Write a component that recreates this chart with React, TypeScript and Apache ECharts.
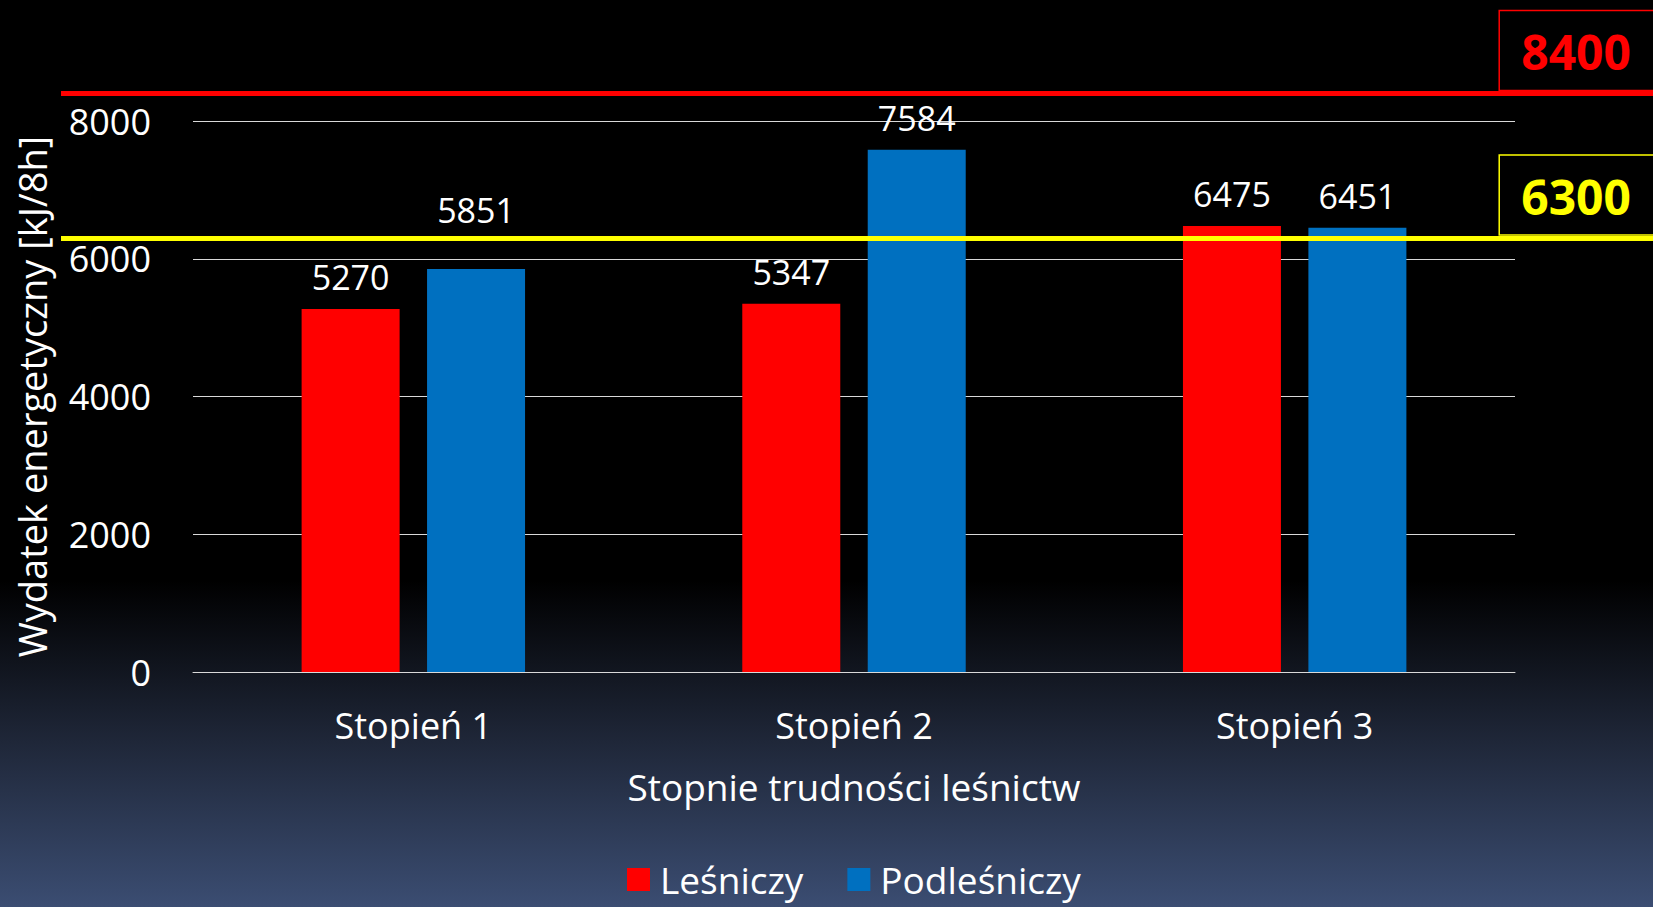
import React, { useEffect, useRef } from "react";
import * as echarts from "echarts";

const categories = ["Stopień 1", "Stopień 2", "Stopień 3"];
const lesniczy = [5270, 5347, 6475];
const podlesniczy = [5851, 7584, 6451];
const seriesNames = ["Leśniczy", "Podleśniczy"];
const limitHigh = 8400;
const limitLow = 6300;
const yTicks = { min: 0, max: 8000, interval: 2000 };

const FONT = "'Open Sans', 'Noto Sans', sans-serif";

export default function App() {
  const ref = useRef<HTMLDivElement>(null);

  useEffect(() => {
    if (!ref.current) return;
    const chart = echarts.init(ref.current, undefined, { renderer: "svg" });

    const gridTop = 121;
    const gridBottom = 235;
    const plotH = 907 - gridTop - gridBottom;
    const overlayMax = 8800;
    const overlayTop = 907 - gridBottom - (plotH * overlayMax) / yTicks.max;

    const barLabel = {
      show: true,
      position: "top" as const,
      color: "#ffffff",
      fontSize: 34,
      fontFamily: FONT,
      distance: 15,
    };

    const limitLabel = (color: string) => ({
      show: true,
      position: "insideEndTop" as const,
      formatter: "{c}",
      color,
      fontSize: 48,
      lineHeight: 56,
      fontWeight: "bold" as const,
      fontFamily: FONT,
      borderColor: color,
      borderWidth: 1.5,
      padding: [13, 26, 11, 22],
      distance: [-4, 3],
    });

    chart.setOption({
      animation: false,
      backgroundColor: "transparent",
      textStyle: { fontFamily: FONT },
      grid: [
        { left: 193, right: 138, top: gridTop, bottom: gridBottom },
        { left: 61, right: 0, top: overlayTop, bottom: gridBottom },
      ],
      legend: {
        data: seriesNames,
        top: 856,
        left: 622,
        icon: "rect",
        itemWidth: 23,
        itemHeight: 23,
        itemGap: 44,
        textStyle: { color: "#ffffff", fontSize: 37, fontFamily: FONT, padding: [0, 0, 0, 5] },
      },
      xAxis: [
        {
          type: "category",
          gridIndex: 0,
          data: categories,
          axisLine: { lineStyle: { color: "#d9d9d9", width: 1 } },
          axisTick: { show: false },
          axisLabel: { color: "#ffffff", fontSize: 36, margin: 35, fontFamily: FONT },
          name: "Stopnie trudności leśnictw",
          nameLocation: "middle",
          nameGap: 96,
          nameTextStyle: { color: "#ffffff", fontSize: 37, fontFamily: FONT },
        },
        {
          type: "value",
          gridIndex: 1,
          min: 0,
          max: 1,
          show: false,
        },
      ],
      yAxis: [
        {
          type: "value",
          gridIndex: 0,
          min: yTicks.min,
          max: yTicks.max,
          interval: yTicks.interval,
          axisLine: { show: false },
          axisTick: { show: false },
          splitLine: { lineStyle: { color: "#d9d9d9", width: 1 } },
          axisLabel: {
            color: "#ffffff",
            fontSize: 36,
            margin: 42,
            fontFamily: FONT,
            formatter: (v: number) => String(v),
          },
          name: "Wydatek energetyczny [kJ/8h]",
          nameLocation: "middle",
          nameRotate: 90,
          nameGap: 142,
          nameTextStyle: { color: "#ffffff", fontSize: 38, fontFamily: FONT },
        },
        {
          type: "value",
          gridIndex: 1,
          min: 0,
          max: overlayMax,
          show: false,
        },
      ],
      series: [
        {
          name: "limits",
          type: "line",
          xAxisIndex: 1,
          yAxisIndex: 1,
          data: [],
          z: 1,
          silent: true,
          markLine: {
            silent: true,
            symbol: ["none", "none"],
            data: [
              {
                yAxis: limitHigh,
                lineStyle: { color: "#ff0000", width: 5, type: "solid" },
                label: limitLabel("#ff0000"),
              },
              {
                yAxis: limitLow,
                lineStyle: { color: "#ffff00", width: 5, type: "solid" },
                label: limitLabel("#ffff00"),
              },
            ],
          },
        },
        {
          name: seriesNames[0],
          type: "bar",
          xAxisIndex: 0,
          yAxisIndex: 0,
          data: lesniczy,
          barWidth: 98,
          barGap: "28%",
          itemStyle: { color: "#ff0000" },
          label: barLabel,
          z: 3,
        },
        {
          name: seriesNames[1],
          type: "bar",
          xAxisIndex: 0,
          yAxisIndex: 0,
          data: podlesniczy.map((v, i) =>
            i === 0 ? { value: v, label: { distance: 42 } } : v
          ),
          barWidth: 98,
          barGap: "28%",
          itemStyle: { color: "#0070c0" },
          label: barLabel,
          z: 3,
        },
      ],
    });

    return () => chart.dispose();
  }, []);

  return (
    <div
      style={{
        position: "fixed",
        left: 0,
        top: 0,
        width: 1653,
        height: 907,
        background:
          "linear-gradient(to bottom, #000000 0%, #000000 64%, #1c2333 80%, #3b4d72 100%)",
      }}
    >
      <div ref={ref} style={{ width: 1653, height: 907 }} />
    </div>
  );
}
